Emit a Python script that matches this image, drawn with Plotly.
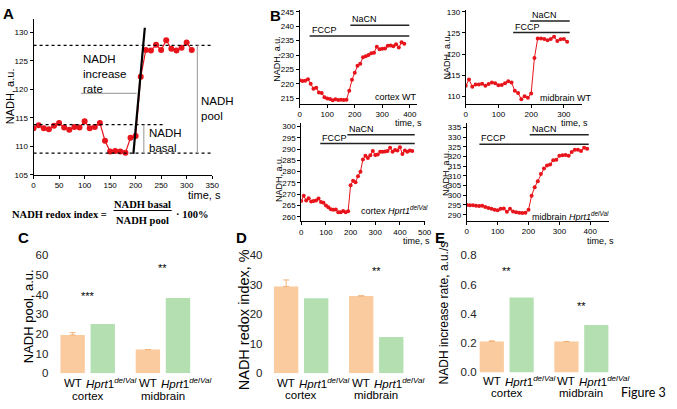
import plotly.graph_objects as go

W, H = 677, 409
def X(px): return px / W
def Y(py): return 1 - py / H

RED = "#E8141B"
WT_COL = "#FACB9E"
KO_COL = "#B3DFB1"
FONT = "Liberation Sans"

# ---------------- Panel A data ----------------
a_time = [0, 10, 20, 30, 40, 50, 60, 70, 80, 90, 100, 110, 120, 130, 140, 150,
          160, 170, 180, 190, 200, 210, 220, 230, 240, 250, 260, 270, 280, 290, 300, 310]
a_nadh = [113.2, 113.7, 113.2, 113.0, 113.6, 114.1, 113.3, 112.9, 113.4, 113.3, 114.4,
          113.2, 113.4, 114.1, 111.0, 109.1, 109.2, 109.1, 108.9, 111.5, 111.8, 122.2,
          126.9, 126.8, 127.8, 126.9, 128.6, 127.1, 126.8, 127.3, 128.2, 126.9]
a_pool_level = 127.7
a_basal_level = 113.8
a_min_level = 108.8
a_rate_x = [195.6, 218.0]
a_rate_y = [108.7, 130.8]

# ---------------- Panel B data ----------------
b1_time = [0, 10, 20, 30, 40, 50, 60, 70, 80, 90, 100, 110, 120, 130, 140, 150, 160, 170, 180,
           190, 200, 210, 220, 230, 240, 250, 260, 270, 280, 290, 300, 310, 320, 330, 340, 350,
           360, 370, 380]
b1_nadh = [221.2, 221.0, 221.1, 221.6, 220.0, 218.3, 218.6, 217.0, 216.8, 215.3,
           214.9, 214.7, 214.3, 214.6, 214.4, 214.5, 214.4, 214.5, 217.6, 221.4,
           223.8, 226.3, 227.0, 229.2, 229.6, 230.0, 230.6, 230.8, 232.9, 232.0,
           232.2, 232.3, 233.2, 233.3, 233.0, 233.7, 232.6, 234.4, 233.9]
b2_time = [0, 10, 20, 30, 40, 50, 60, 70, 80, 90, 100, 110, 120, 130, 140, 150,
           160, 170, 180, 190, 200, 210, 220, 230, 240, 250, 260, 270, 280, 290, 300, 310]
b2_nadh = [112.5, 114.0, 112.3, 112.8, 112.8, 113.0, 112.5, 112.9, 113.3, 113.1, 112.6,
           112.7, 113.1, 113.6, 113.3, 111.3, 110.8, 109.3, 110.0, 109.7, 110.7, 119.1,
           123.7, 123.7, 123.6, 123.3, 123.6, 124.1, 123.1, 123.5, 123.6, 122.9]
b3_time = [0, 10, 20, 30, 40, 50, 60, 70, 80, 90, 100, 110, 120, 130, 140, 150, 160, 170,
           180, 190, 200, 210, 220, 230, 240, 250, 260, 270, 280, 290, 300, 310, 320, 330,
           340, 350, 360, 370, 380, 390, 400, 410, 420, 430, 440, 450]
b3_nadh = [267.0, 269.3, 267.2, 268.2, 266.8, 267.0, 267.3, 268.1, 266.6, 266.2,
           265.0, 264.3, 263.4, 263.2, 263.3, 262.0, 262.0, 262.6, 262.1, 262.5,
           274.0, 276.0, 275.3, 278.0, 280.0, 285.4, 287.0, 286.0, 287.2, 289.1,
           287.4, 287.6, 288.8, 288.8, 288.9, 289.1, 290.6, 288.8, 289.6, 289.4,
           290.8, 287.8, 289.4, 288.8, 289.4, 289.1]
b4_time = [0, 10, 20, 30, 40, 50, 60, 70, 80, 90, 100, 110, 120, 130, 140, 150, 160, 170,
           180, 190, 200, 210, 220, 230, 240, 250, 260, 270, 280, 290, 300, 310, 320, 330,
           340, 350, 360, 370, 380, 390]
b4_nadh = [295.0, 294.8, 294.9, 294.6, 294.5, 294.6, 294.0, 293.5, 293.0, 292.6,
           292.3, 293.0, 293.2, 291.5, 293.0, 291.6, 291.3, 291.0, 290.9, 291.0,
           292.5, 299.8, 304.2, 307.2, 310.9, 313.8, 315.3, 315.8, 318.1, 318.3,
           320.3, 320.6, 320.8, 320.3, 322.3, 323.4, 323.5, 322.8, 324.5, 324.0]
# treatment bars: (start, end, level)
b1_fccp = (36, 398, 236.6); b1_nacn = (184, 398, 240.3)
b2_fccp = (145, 318, 125.1); b2_nacn = (197, 318, 127.8)
b3_fccp = (77, 460, 292.4); b3_nacn = (187, 460, 296.3)
b4_fccp = (41, 395, 326.3); b4_nacn = (204, 395, 331.2)

# ---------------- Bars ----------------
regions = ["cortex", "midbrain"]
pool_wt = [19.4, 12.0]
pool_ko = [25.0, 38.2]
pool_wt_err = [1.2, 0.0]
redox_wt = [29.4, 26.2]
redox_ko = [25.4, 12.3]
redox_wt_err = [2.2, 0.0]
rate_wt = [0.211, 0.211]
rate_ko = [0.511, 0.324]
rate_wt_err = [0.004, 0.0]

fig = go.Figure()

fig.add_trace(go.Scatter(x=a_time, y=a_nadh, mode="lines+markers", xaxis="x", yaxis="y",
                         line=dict(color=RED, width=1.2), marker=dict(size=6, color=RED),
                         showlegend=False))
fig.add_trace(go.Scatter(x=a_rate_x, y=a_rate_y, mode="lines", xaxis="x", yaxis="y",
                         line=dict(color="black", width=2.2), showlegend=False))

b_sets = [(b1_time, b1_nadh, b1_fccp, b1_nacn, 2),
          (b2_time, b2_nadh, b2_fccp, b2_nacn, 3),
          (b3_time, b3_nadh, b3_fccp, b3_nacn, 4),
          (b4_time, b4_nadh, b4_fccp, b4_nacn, 5)]
for t, v, fc, nc, k in b_sets:
    for tr in (fc, nc):
        fig.add_trace(go.Scatter(x=[tr[0], tr[1]], y=[tr[2], tr[2]], mode="lines",
                                 xaxis=f"x{k}", yaxis=f"y{k}",
                                 line=dict(color="#222222", width=1.5), showlegend=False))
    fig.add_trace(go.Scatter(x=t, y=v, mode="lines+markers", xaxis=f"x{k}", yaxis=f"y{k}",
                             line=dict(color=RED, width=1), marker=dict(size=4, color=RED),
                             showlegend=False))

bar_sets = [(pool_wt, pool_ko, pool_wt_err, 6), (redox_wt, redox_ko, redox_wt_err, 7),
            (rate_wt, rate_ko, rate_wt_err, 8)]
for wt, ko, err, k in bar_sets:
    fig.add_trace(go.Bar(x=regions, y=wt, marker=dict(color=WT_COL, line=dict(width=0)),
                         xaxis=f"x{k}", yaxis=f"y{k}", showlegend=False,
                         error_y=dict(type="data", array=err, arrayminus=[0, 0], symmetric=False,
                                      color="#F3B27A", thickness=1, width=3)))
    fig.add_trace(go.Bar(x=regions, y=ko, marker=dict(color=KO_COL, line=dict(width=0)),
                         xaxis=f"x{k}", yaxis=f"y{k}", showlegend=False))

line_ax = dict(showline=True, linecolor="black", linewidth=1, ticks="outside", ticklen=3,
               tickwidth=1, tickcolor="black", showgrid=False, zeroline=False,
               tickfont=dict(size=8, color="black", family=FONT))
bar_yax = dict(showline=False, ticks="", showgrid=False, zeroline=False,
               tickfont=dict(size=11.5, color="#222", family=FONT))
bar_xax = dict(showline=False, ticks="", showgrid=False, zeroline=False, showticklabels=False,
               type="category")

layout = dict(
    width=W, height=H, autosize=False, margin=dict(l=0, r=0, t=0, b=0, pad=0),
    paper_bgcolor="white", plot_bgcolor="white",
    barmode="group", bargap=0.2, bargroupgap=0.19,
    font=dict(family=FONT, color="black"),
    xaxis=dict(line_ax, domain=[X(32), X(213)], range=[0, 350], dtick=50, anchor="y"),
    yaxis=dict(line_ax, domain=[Y(174), Y(13)], range=[105, 132.4], dtick=5, anchor="x"),
    xaxis2=dict(line_ax, domain=[X(301.7), X(420.3)], range=[0, 425], dtick=100, anchor="y2"),
    yaxis2=dict(line_ax, domain=[Y(100.7), Y(4)], range=[213.08, 245.67], dtick=5, tick0=215, anchor="x2"),
    xaxis3=dict(line_ax, domain=[X(470), X(588)], range=[0, 356], dtick=100, anchor="y3"),
    yaxis3=dict(line_ax, domain=[Y(100.5), Y(4)], range=[108.3, 130.46], dtick=5, anchor="x3"),
    xaxis4=dict(line_ax, domain=[X(303.3), X(428.3)], range=[0, 500], dtick=100, anchor="y4"),
    yaxis4=dict(line_ax, domain=[Y(221.7), Y(121)], range=[258.1, 301.3], dtick=5, anchor="x4"),
    xaxis5=dict(line_ax, domain=[X(471), X(615)], range=[0, 460], dtick=100, anchor="y5"),
    yaxis5=dict(line_ax, domain=[Y(221), Y(121)], range=[287, 337], dtick=5, anchor="x5"),
    xaxis6=dict(bar_xax, domain=[X(48), X(200)], range=[-0.5095, 1.484], anchor="y6"),
    yaxis6=dict(bar_yax, domain=[Y(378.3), Y(256.7)], range=[0, 60], dtick=10, anchor="x6"),
    xaxis7=dict(bar_xax, domain=[X(265), X(415)], range=[-0.502, 1.469], anchor="y7"),
    yaxis7=dict(bar_yax, domain=[Y(378.3), Y(256.7)], range=[0, 40], dtick=10, anchor="x7"),
    xaxis8=dict(bar_xax, domain=[X(482), X(625)], range=[-0.39, 1.5], anchor="y8"),
    yaxis8=dict(bar_yax, domain=[Y(377.5), Y(256.7)], range=[0, 0.8], dtick=0.2,
                tickformat=".1f", anchor="x8"),
)
fig.update_layout(**layout)

shapes = []
dot = dict(color="black", width=1.3, dash="dot")
shapes.append(dict(type="line", xref="x", yref="y", x0=0, x1=350, y0=a_pool_level, y1=a_pool_level, line=dot))
shapes.append(dict(type="line", xref="x", yref="y", x0=0, x1=253, y0=a_basal_level, y1=a_basal_level, line=dot))
shapes.append(dict(type="line", xref="x", yref="y", x0=0, x1=350, y0=a_min_level, y1=a_min_level, line=dot))
gray = dict(color="#A8A8A8", width=1.2)
shapes.append(dict(type="line", xref="x", yref="y", x0=92.6, x1=202, y0=119.3, y1=119.3, line=gray))
shapes.append(dict(type="line", xref="x", yref="y", x0=321, x1=321, y0=a_min_level, y1=a_pool_level, line=gray))
shapes.append(dict(type="line", xref="x", yref="y", x0=216, x1=216, y0=a_min_level, y1=a_basal_level, line=gray))
# formula fraction bar
shapes.append(dict(type="line", xref="paper", yref="paper", x0=X(113), x1=X(172), y0=Y(210.7), y1=Y(210.7),
                   line=dict(color="black", width=1)))
fig.update_layout(shapes=shapes)

ann = []
def txt(px, py, text, size=11, xanchor="center", yanchor="middle", angle=0, family=FONT, color="black", align="center"):
    ann.append(dict(x=X(px), y=Y(py), xref="paper", yref="paper", text=text, showarrow=False,
                    xanchor=xanchor, yanchor=yanchor, textangle=angle, align=align,
                    font=dict(size=size, family=family, color=color)))

# panel letters
txt(7, 8, "<b>A</b>", 15)
txt(277, 10, "<b>B</b>", 15)
txt(22, 238, "<b>C</b>", 15)
txt(243, 239, "<b>D</b>", 15)
txt(444, 238, "<b>E</b>", 15)

# panel A texts
txt(8, 93, "NADH, a.u.", 11, angle=-90)
txt(205, 195, "time, s", 11)
txt(80, 70, "NADH<br>increase<br>rate", 11.5, xanchor="left", align="left")
txt(199.5, 106, "NADH<br>pool", 11.5, xanchor="left", align="left")
txt(146.5, 139, "NADH<br>basal", 11.5, xanchor="left", align="left")

# formula
SERIF = "Liberation Serif"
txt(8, 214.5, "<b>NADH redox index =</b>", 10.5, xanchor="left", family=SERIF)
txt(142.5, 204.5, "<b>NADH basal</b>", 10.5, family=SERIF)
txt(142.5, 220.5, "<b>NADH pool</b>", 10.5, family=SERIF)
txt(174, 214.5, "<b>· 100%</b>", 10.5, xanchor="left", family=SERIF)

# panel B texts
for px, py in [(279, 54), (451, 52), (280, 178), (450, 172)]:
    txt(px, py, "NADH, a.u.", 9, angle=-90)
txt(412, 120.5, "time, s", 9)
txt(580, 121, "time, s", 9)
txt(420, 242.5, "time, s", 9)
txt(607, 242.5, "time, s", 9)
txt(423, 94, "cortex WT", 9, xanchor="right")
txt(543, 95, "midbrain WT", 9, xanchor="left")
txt(361.7, 210, "cortex <i>Hprt1</i><sup><i>delVal</i></sup>", 9, xanchor="left")
txt(535, 216, "midbrain <i>Hprt1</i><sup><i>delVal</i></sup>", 9, xanchor="left")
for t, v, fc, nc, k in b_sets:
    for tr, name in ((fc, "FCCP"), (nc, "NaCN")):
        ann.append(dict(x=tr[0], y=tr[2], xref=f"x{k}", yref=f"y{k}", text=name, showarrow=False,
                        xanchor="left", yanchor="bottom", yshift=-1,
                        font=dict(size=9, family=FONT, color="black")))

# bar panels texts
txt(27, 320, "NADH pool, a.u.", 13, angle=-90)
txt(245, 323, "NADH redox index, %", 14.5, angle=-90)
txt(448, 316.7, "NADH increase rate, a.u./s", 12, angle=-90)
ko_label = "<i>Hprt</i>1<sup><i>delVal</i></sup>"
for k, row1, row2 in [(6, 388.3, 401.7), (7, 388.3, 400.7), (8, 386.7, 398.3)]:
    for gi, reg in enumerate(regions):
        ann.append(dict(x=gi - 0.2, y=Y(row1), xref=f"x{k}", yref="paper", text="WT", showarrow=False,
                        xanchor="center", yanchor="middle", font=dict(size=11.5, family=FONT, color="black")))
        ann.append(dict(x=gi + 0.2, y=Y(row1), xref=f"x{k}", yref="paper", text=ko_label, showarrow=False,
                        xanchor="left", xshift=-19, yanchor="middle", font=dict(size=11.5, family=FONT, color="black")))
        ann.append(dict(x=gi, y=Y(row2), xref=f"x{k}", yref="paper", text=reg, showarrow=False,
                        xanchor="center", yanchor="middle", font=dict(size=11.5, family=FONT, color="black")))

stars = [(6, 0, 39, "***"), (6, 1, 53.5, "**"), (7, 1, 34.7, "**"), (8, 0, 0.695, "**"), (8, 1, 0.45, "**")]
for k, gi, yv, s in stars:
    ann.append(dict(x=gi, y=yv, xref=f"x{k}", yref=f"y{k}", text=s, showarrow=False,
                    xanchor="center", yanchor="middle", font=dict(size=11, family=FONT, color="black")))

txt(675, 398, "Figure 3", 12.5, xanchor="right", family="Lato")

fig.update_layout(annotations=ann)
fig.write_html("out.html", config={"displayModeBar": False},
               post_script="document.body.style.margin='0px';document.body.style.overflow='hidden';")
